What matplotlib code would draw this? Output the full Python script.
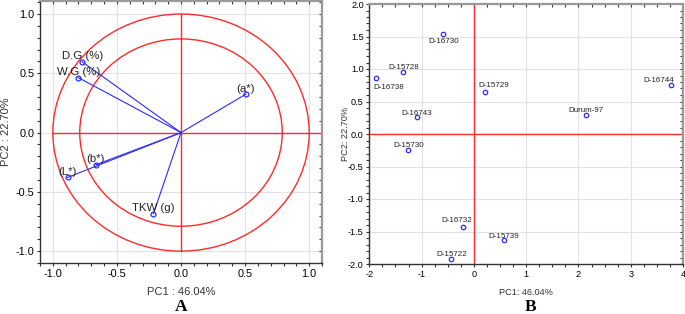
import matplotlib
matplotlib.use("Agg")
import matplotlib.pyplot as plt
import numpy as np
from matplotlib.ticker import MultipleLocator, FuncFormatter
from matplotlib.patches import Circle

plt.rcParams['font.family'] = ['Liberation Sans', 'DejaVu Sans']

# Panel A: variable loadings
var_names = ["D.G (%)", "W.G (%)", "(a*)", "(b*)", "(L*)", "TKW (g)"]
var_pc1 = [-0.770, -0.802, 0.506, -0.664, -0.885, -0.215]
var_pc2 = [0.596, 0.464, 0.324, -0.271, -0.378, -0.685]
circle_radii = [1.0, 0.79]

# Panel B: genotype scores
geno_names = ["D-16730", "D-15728", "D-16738", "D-15729", "D-16744", "Durum-97",
              "D-16743", "D-15730", "D-16732", "D-15739", "D-15722"]
geno_pc1 = [-0.594, -1.355, -1.872, 0.204, 3.764, 2.147, -1.086, -1.265, -0.217, 0.581, -0.435]
geno_pc2 = [1.534, 0.960, 0.868, 0.653, 0.750, 0.289, 0.254, -0.248, -1.437, -1.631, -1.918]
# label offsets in pixels (dx, dy)
geno_offsets = [(1, -7), (1, 4), (13, -10), (9, 6), (-12, 5), (0, 5),
                (0, 4), (1, 5), (-6, 7), (0, 4), (1, 4)]

W, H = 685, 314
fig = plt.figure(figsize=(W / 100, H / 100), dpi=100)

def ax_rect(x0, y0, x1, y1):
    return [x0 / W, 1 - y1 / H, (x1 - x0) / W, (y1 - y0) / H]

red = '#ff2a2a'
blue = '#2b2bff'
grid_c = '#e2e2e2'

def style_axes(ax, fs):
    ax.grid(True, which='major', color=grid_c, lw=0.8)
    ax.set_axisbelow(True)
    for s in ['left', 'bottom']:
        ax.spines[s].set_color('#333333')
        ax.spines[s].set_linewidth(1.0)
    for s in ['top', 'right']:
        ax.spines[s].set_color('#999999')
        ax.spines[s].set_linewidth(1.6)
    ax.tick_params(which='both', direction='out', length=2, width=0.8,
                   labelsize=fs, color='#333333', pad=2)
    ax.tick_params(which='both', top=True, right=True)
    for t in ax.xaxis.get_major_ticks() + ax.xaxis.get_minor_ticks():
        t.tick2line.set_marker(3)
    for t in ax.yaxis.get_major_ticks() + ax.yaxis.get_minor_ticks():
        t.tick2line.set_marker(0)

fmt1 = FuncFormatter(lambda v, p: f"{v:.1f}".replace('\u2212', '-'))
fmt0 = FuncFormatter(lambda v, p: f"{v:.0f}".replace('\u2212', '-'))

# ---- Panel A ----
axA = fig.add_axes(ax_rect(40, 1, 322, 263))
axA.set_xlim(-1.1, 1.1)
axA.set_ylim(-1.1, 1.11)
axA.xaxis.set_major_locator(MultipleLocator(0.5))
axA.yaxis.set_major_locator(MultipleLocator(0.5))
axA.xaxis.set_minor_locator(MultipleLocator(0.1))
axA.yaxis.set_minor_locator(MultipleLocator(0.1))
axA.xaxis.set_major_formatter(fmt1)
axA.yaxis.set_major_formatter(fmt1)
style_axes(axA, 7.8)
for r in circle_radii:
    axA.add_patch(Circle((0, 0), r, fill=False, ec=red, lw=1.0, zorder=2))
axA.plot([-1, 1.1], [0, 0], color=red, lw=1.0, zorder=2)
axA.plot([0, 0], [-1, 1], color=red, lw=1.0, zorder=2)
for name, x, y in zip(var_names, var_pc1, var_pc2):
    axA.plot([0, x], [0, y], color=blue, lw=0.8, zorder=3)
    axA.plot([x], [y], 'o', ms=3.5, mfc='none', mec=blue, mew=0.9, zorder=4)
    axA.annotate(name, (x, y), xytext=(0, 5.5), textcoords='offset pixels',
                 ha='center', va='center', fontsize=8.2, color='#222222', zorder=5)
axA.set_xlabel("PC1 : 46.04%", fontsize=8, labelpad=6, color='#333333')
axA.set_ylabel("PC2 : 22.70%", fontsize=8, color='#333333')
axA.yaxis.set_label_coords((11 - 40) / 282, 0.5)

# ---- Panel B ----
axB = fig.add_axes(ax_rect(369.3, 4, 683, 264))
axB.set_xlim(-2, 4)
axB.set_ylim(-2, 2)
axB.xaxis.set_major_locator(MultipleLocator(1))
axB.yaxis.set_major_locator(MultipleLocator(0.5))
axB.xaxis.set_minor_locator(MultipleLocator(0.25))
axB.yaxis.set_minor_locator(MultipleLocator(0.1))
axB.xaxis.set_major_formatter(fmt0)
axB.yaxis.set_major_formatter(fmt1)
style_axes(axB, 6.6)
axB.axhline(0, color=red, lw=1.0, zorder=2)
axB.axvline(0, color=red, lw=1.0, zorder=2)
axB.plot(geno_pc1, geno_pc2, 'o', ms=3.2, mfc='none', mec=blue, mew=0.9, zorder=4)
for name, x, y, (dx, dy) in zip(geno_names, geno_pc1, geno_pc2, geno_offsets):
    axB.annotate(name, (x, y), xytext=(dx, dy), textcoords='offset pixels',
                 ha='center', va='center', fontsize=5.8, color='#222222', zorder=5)
axB.set_xlabel("PC1: 46.04%", fontsize=6.6, labelpad=7, color='#333333')
axB.set_ylabel("PC2: 22.70%", fontsize=6.6, color='#333333')
axB.yaxis.set_label_coords((350 - 369.3) / 313.7, 0.5)

fig.text(181 / W, 1 - 307 / H, "A", fontsize=12.5, fontweight='bold',
         family='Liberation Serif', ha='center', va='center')
fig.text(531 / W, 1 - 307 / H, "B", fontsize=12.5, fontweight='bold',
         family='Liberation Serif', ha='center', va='center')

fig.savefig("out.png", dpi=100)
